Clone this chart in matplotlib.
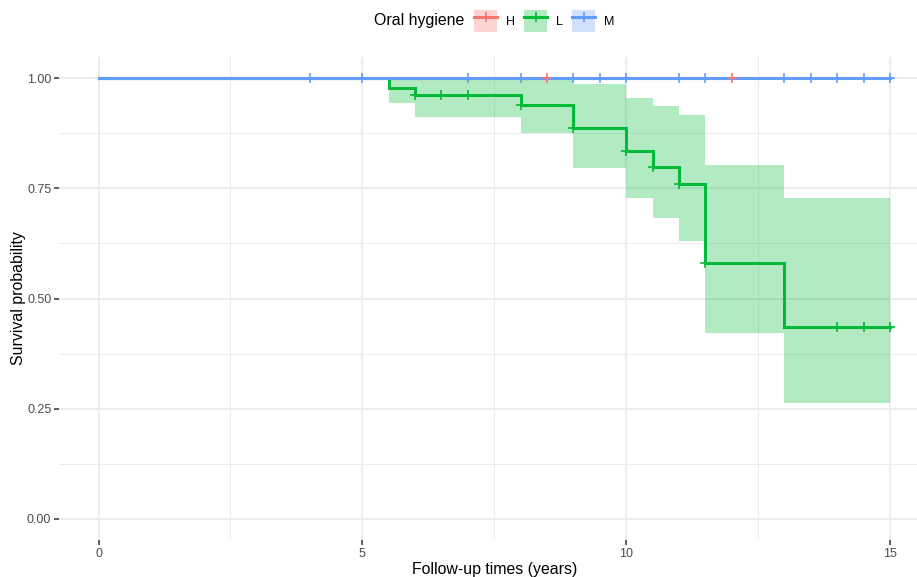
import numpy as np
import matplotlib.pyplot as plt
from matplotlib.patches import Patch
from matplotlib.lines import Line2D
from matplotlib.ticker import MultipleLocator

plt.rcParams['font.family'] = ['Liberation Sans', 'DejaVu Sans']

# Kaplan-Meier estimates per oral hygiene group (step times, survival after each step)
groups = ['H', 'L', 'M']
colors = {'H': '#F8766D', 'L': '#00BA38', 'M': '#619CFF'}

h_times = [0, 12]
h_surv = [1.0, 1.0]
h_censor = [8.5, 12]

l_times = [0, 5.5, 6, 8, 9, 10, 10.5, 11, 11.5, 13, 15]
l_surv = [1.0, 0.978, 0.961, 0.939, 0.886, 0.834, 0.799, 0.760, 0.581, 0.436, 0.436]
l_lower = [1.0, 0.944, 0.911, 0.876, 0.797, 0.727, 0.683, 0.630, 0.421, 0.262, 0.262]
l_upper = [1.0, 1.0, 1.0, 1.0, 0.986, 0.954, 0.937, 0.916, 0.803, 0.729, 0.729]
l_censor = [6, 6.5, 7, 8, 9, 10, 10.5, 11, 11.5, 14, 14.5, 15]

m_times = [0, 15]
m_surv = [1.0, 1.0]
m_censor = [4, 5, 7, 8, 9, 9.5, 10, 11, 11.5, 13, 13.5, 14, 14.5, 15]

curves = {
    'H': (h_times, h_surv, h_censor),
    'L': (l_times, l_surv, l_censor),
    'M': (m_times, m_surv, m_censor),
}


def surv_at(times, surv, t):
    idx = np.searchsorted(times, t, side='right') - 1
    return np.asarray(surv)[idx]


W, H = 917, 577
fig = plt.figure(figsize=(W / 100, H / 100), dpi=100)
# panel: left 59px, top 57px, bottom 540px; right edge runs past the canvas
ax = fig.add_axes([59 / W, 1 - 540 / H, 870.5 / W, (540 - 57) / H])

ax.fill_between(l_times, l_lower, l_upper, step='post',
                color=colors['L'], alpha=0.3, lw=0, zorder=1)

for g in groups:
    t, s, _ = curves[g]
    ax.step(t, s, where='post', color=colors[g], lw=2.2, zorder=2,
            solid_joinstyle='miter')

for g in groups:
    t, s, c = curves[g]
    ax.plot(c, surv_at(t, s, c), ls='none', marker='+', ms=7.5, mew=1.2,
            color=colors[g], zorder=3)

ax.set_xlim(-0.75, 15.75)
ax.set_ylim(-0.048, 1.048)
ax.xaxis.set_major_locator(MultipleLocator(5))
ax.xaxis.set_minor_locator(MultipleLocator(2.5))
ax.yaxis.set_major_locator(MultipleLocator(0.25))
ax.yaxis.set_minor_locator(MultipleLocator(0.125))
ax.set_yticks([0, 0.25, 0.5, 0.75, 1.0])
ax.set_yticklabels(['0.00', '0.25', '0.50', '0.75', '1.00'])

ax.grid(which='major', color='#EBEBEB', lw=1.3)
ax.grid(which='minor', color='#EBEBEB', lw=0.7)
ax.set_axisbelow(True)
for sp in ax.spines.values():
    sp.set_visible(False)
ax.tick_params(which='major', length=3.5, width=1.1, color='#333333',
               labelcolor='#4D4D4D', labelsize=9, pad=2)
ax.tick_params(which='minor', length=0)

ax.set_xlabel('Follow-up times (years)', fontsize=11.4, labelpad=2)
ax.set_ylabel('Survival probability', fontsize=11.4, labelpad=0.5)

# legend across the top
fig.text(374 / W, 1 - 21 / H, 'Oral hygiene', fontsize=11.4, va='center', ha='left')
handles = [(Patch(facecolor=colors[g], alpha=0.3, lw=0),
            Line2D([], [], color=colors[g], lw=2.2, marker='+', ms=7.5, mew=1.2))
           for g in groups]
fig.legend(handles, groups, loc='center left', bbox_to_anchor=(474 / W, 1 - 21 / H),
           ncol=3, frameon=False, fontsize=9, handlelength=1.84, handleheight=2.35,
           handletextpad=0.7, columnspacing=0.75, borderpad=0, borderaxespad=0)

fig.savefig('out.png', dpi=100)
